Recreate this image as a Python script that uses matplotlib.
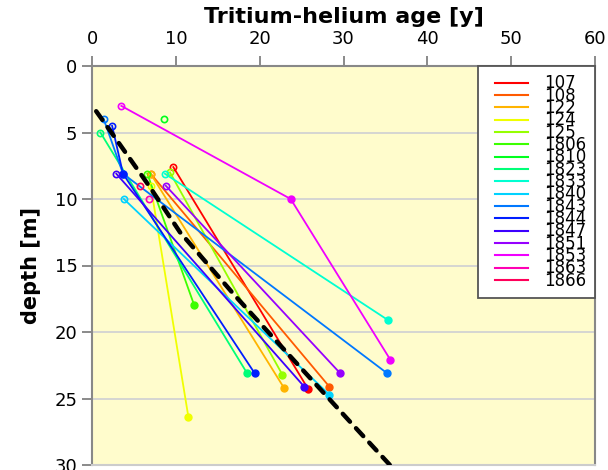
import numpy as np
import matplotlib.pyplot as plt
from matplotlib.colors import hsv_to_rgb
from matplotlib.legend_handler import HandlerLine2D

plt.rcParams['font.family'] = ['DejaVu Sans']

# wells and their samples (age in years, depth in m)
wells = ['107', '108', '122', '124', '125', '1806', '1810', '1823', '1833',
         '1840', '1843', '1844', '1847', '1851', '1853', '1863', '1866']
ages = [
    [9.7, 25.8],
    [7.0, 28.3],
    [7.0, 22.9],
    [7.0, 11.5],
    [9.3, 22.7],
    [6.6, 12.2],
    [8.6],
    [1.0, 18.5],
    [8.7, 35.3],
    [3.8, 28.3],
    [1.4, 3.7, 35.2],
    [2.4, 3.7, 19.4],
    [2.9, 25.3],
    [8.8, 29.6],
    [3.5, 23.7, 35.6],
    [6.8],
    [5.7],
]
depths = [
    [7.6, 24.3],
    [8.1, 24.1],
    [8.1, 24.2],
    [9.0, 26.4],
    [8.0, 23.2],
    [8.1, 18.0],
    [4.0],
    [5.0, 23.1],
    [8.1, 19.1],
    [10.0, 24.7],
    [4.0, 8.1, 23.1],
    [4.5, 8.1, 23.1],
    [8.1, 24.1],
    [9.0, 23.1],
    [3.0, 10.0, 22.1],
    [10.0],
    [9.0],
]
# black dashed reference curve
ref_age = [0.5, 3.1, 6.9, 10.5, 17.1, 23.9, 31.0, 37.0]
ref_depth = [3.4, 5.7, 9.1, 12.5, 17.3, 22.0, 26.9, 31.0]

colors = [hsv_to_rgb((i / len(wells), 1, 1)) for i in range(len(wells))]

dpi = 100
fig = plt.figure(figsize=(6.08, 4.70), dpi=dpi)
ax = fig.add_axes([92 / 608, 1 - 465 / 470, (595 - 92) / 608, (465 - 66) / 470])
ax.set_facecolor('#fffccc')

for y in range(5, 30, 5):
    ax.axhline(y, color='#d2d2d2', lw=1.3, zorder=0)

handles = []
for name, a, d, c in zip(wells, ages, depths, colors):
    h, = ax.plot(a, d, color=c, lw=1.3, label=name, zorder=2)
    handles.append(h)
    ax.plot(a[:1], d[:1], 'o', ms=4.5, mfc='none', mec=c, mew=1.2, zorder=3)
    if len(a) > 1:
        ax.plot(a[1:], d[1:], 'o', ms=5, color=c, zorder=3)

ax.plot(ref_age, ref_depth, color='black', lw=3.2, dashes=(2.4, 2.0),
        dash_capstyle='round', zorder=4)

ax.set_xlim(0, 60)
ax.set_ylim(30, 0)
ax.set_xticks(range(0, 61, 10))
ax.set_yticks(range(0, 31, 5))
ax.xaxis.tick_top()
ax.xaxis.set_label_position('top')
ax.tick_params(colors='#777777', labelcolor='black', labelsize=13,
               length=7, width=1.2)
ax.tick_params(axis='x', pad=6)
for s in ax.spines.values():
    s.set_color('#888888')
    s.set_linewidth(1.5)
ax.spines['bottom'].set_color('#cccccc')

ax.set_xlabel('Tritium-helium age [y]', fontsize=16, fontweight='bold', labelpad=5)
ax.set_ylabel('depth [m]', fontsize=15, fontweight='bold', labelpad=10)

leg = ax.legend(handles=handles, loc='upper right', fontsize=12,
                labelspacing=-0.34, handlelength=2.46, handletextpad=1.0,
                borderpad=0.5, borderaxespad=0, fancybox=False,
                framealpha=1, edgecolor='#555555',
                handler_map={plt.Line2D: HandlerLine2D(xpad=0.5)})
leg.get_frame().set_linewidth(1.3)
for line in leg.get_lines():
    line.set_linewidth(1.5)

fig.savefig('out.png', dpi=dpi)
